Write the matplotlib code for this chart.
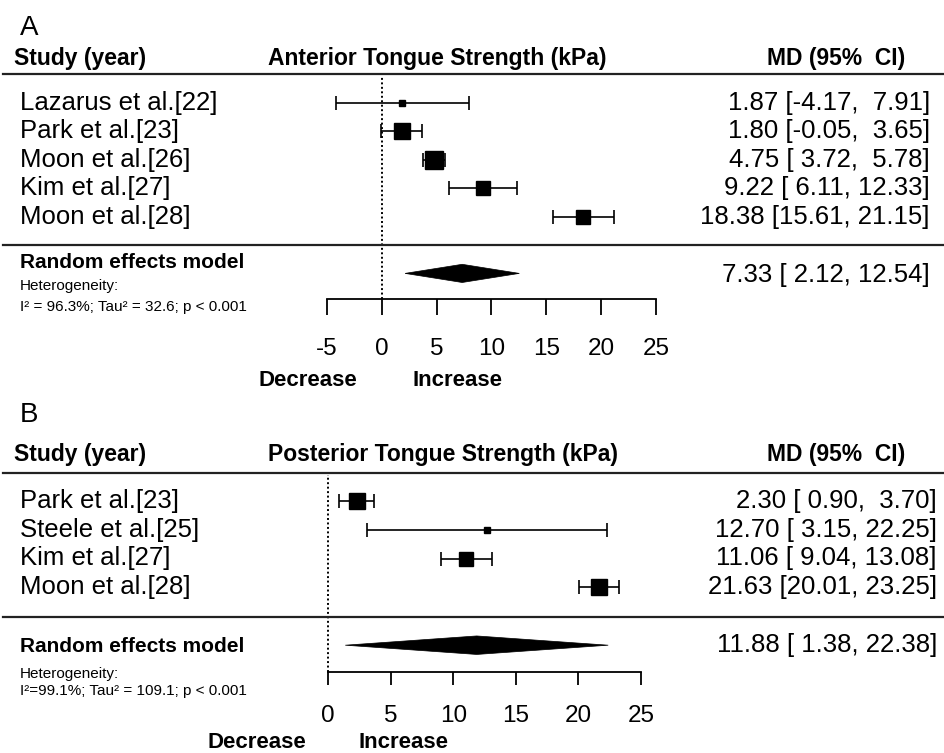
import matplotlib.pyplot as plt
from matplotlib.lines import Line2D
from matplotlib.patches import Polygon
import matplotlib.transforms as mtransforms
import numpy as np

plt.rcParams['font.family'] = ['Liberation Sans', 'DejaVu Sans']
plt.rcParams['axes.unicode_minus'] = False

# ============================= Data =================================
study_a = ['Lazarus et al.[22]', 'Park et al.[23]', 'Moon et al.[26]', 'Kim et al.[27]', 'Moon et al.[28]']
md_a = [1.87, 1.80, 4.75, 9.22, 18.38]
lo_a = [-4.17, -0.05, 3.72, 6.11, 15.61]
hi_a = [7.91, 3.65, 5.78, 12.33, 21.15]
wt_a = [3, 26, 30, 20, 21]          # relative box weights
pooled_a = [7.33, 2.12, 12.54]
het_a = 'I² = 96.3%; Tau² = 32.6; p < 0.001'
ticks_a = [-5, 0, 5, 10, 15, 20, 25]

study_b = ['Park et al.[23]', 'Steele et al.[25]', 'Kim et al.[27]', 'Moon et al.[28]']
md_b = [2.30, 12.70, 11.06, 21.63]
lo_b = [0.90, 3.15, 9.04, 20.01]
hi_b = [3.70, 22.25, 13.08, 23.25]
wt_b = [23, 3.3, 21, 23]
pooled_b = [11.88, 1.38, 22.38]
het_b = 'I²=99.1%; Tau² = 109.1; p < 0.001'
ticks_b = [0, 5, 10, 15, 20, 25]
# ====================================================================

W, H = 944, 753
fig = plt.figure(figsize=(W / 100, H / 100), dpi=100)


def fx(p):
    return p / W


def fy(p):
    return 1 - p / H


def ci_text(est, lo, hi):
    return '{:.2f} [{:5.2f}, {:5.2f}]'.format(est, lo, hi)


def hline(y):
    fig.add_artist(Line2D([fx(3), 1], [fy(y), fy(y)], color='#222222', lw=1.6))


def draw_panel(letter, title, studies, md, lo, hi, wt, pooled, het, ticks, L):
    n = len(studies)
    rows = np.arange(1, n + 1)
    md = np.array(md)
    lo = np.array(lo)
    hi = np.array(hi)

    # headers
    fig.text(fx(20), fy(L['letter_y']), letter, fontsize=20, va='baseline')
    fig.text(fx(14), fy(L['head_y']), 'Study (year)', fontsize=16.5, weight='bold', va='baseline')
    fig.text(fx(268), fy(L['head_y']), title, fontsize=16.5, weight='bold', va='baseline')
    fig.text(fx(905), fy(L['head_y']), 'MD (95%  CI)', fontsize=16.5, weight='bold', va='baseline', ha='right')
    hline(L['hline_y'])
    hline(L['sep_y'])

    # forest axes
    ax = fig.add_axes([fx(300), fy(L['ax_bot']), 400 / W, (L['ax_bot'] - L['ax_top']) / H])
    ax.set_xlim((300 - L['x0']) / L['ppu'], (700 - L['x0']) / L['ppu'])
    ax.set_ylim(1 + (L['ax_bot'] - L['row1']) / L['dy'], 1 + (L['ax_top'] - L['row1']) / L['dy'])
    ax.patch.set_visible(False)

    ax.axvline(0, color='black', lw=1.4, ls=(0, (1, 1.3)))
    ax.errorbar(md, rows, xerr=[md - lo, hi - md], fmt='none', ecolor='black',
                elinewidth=1.2, capsize=4.7, capthick=1.2)
    for i in range(n):
        ax.plot(md[i], rows[i], marker='s', ms=2.35 * np.sqrt(wt[i]), color='black', zorder=3)

    yd = n + 2
    est, plo, phi = pooled
    ax.add_patch(Polygon([[plo, yd], [est, yd - 0.32], [phi, yd], [est, yd + 0.32]],
                         closed=True, facecolor='black', edgecolor='black', lw=0.5))

    for s in ['top', 'left', 'right']:
        ax.spines[s].set_visible(False)
    ax.spines['bottom'].set_bounds(ticks[0], ticks[-1])
    ax.spines['bottom'].set_linewidth(1.3)
    ax.set_xticks(ticks)
    ax.set_yticks([])
    ax.tick_params(axis='x', direction='out', length=L['tick_len'], width=1.3,
                   pad=L['tick_pad'], labelsize=17.5)

    # study labels and CI column
    trans = mtransforms.blended_transform_factory(fig.transFigure, ax.transData)
    for i in range(n):
        ax.text(fx(20), rows[i], studies[i], transform=trans, va='center', fontsize=18.5)
        ax.text(fx(L['ci_right']), rows[i], ci_text(md[i], lo[i], hi[i]), transform=trans,
                va='center', ha='right', fontsize=18.5)

    # pooled row
    fig.text(fx(20), fy(L['rem_y']), 'Random effects model', fontsize=15, weight='bold', va='baseline')
    fig.text(fx(20), fy(L['het_y']), 'Heterogeneity:', fontsize=11, va='baseline')
    fig.text(fx(20), fy(L['i2_y']), het, fontsize=11, va='baseline')
    fig.text(fx(L['ci_right']), fy(L['pool_y']), ci_text(est, plo, phi), fontsize=18.5,
             ha='right', va='baseline')

    fig.text(fx(L['dec_x']), fy(L['lab_y']), 'Decrease', fontsize=16, weight='bold', ha='center', va='baseline')
    fig.text(fx(L['inc_x']), fy(L['lab_y']), 'Increase', fontsize=16, weight='bold', ha='center', va='baseline')
    return ax


layout_a = dict(letter_y=35, head_y=65, hline_y=74, sep_y=245, ax_top=76, ax_bot=299.3,
                row1=103, dy=28.4, x0=381.8, ppu=10.967, tick_len=11.5, tick_pad=16.5,
                ci_right=930, rem_y=268.3, het_y=290, i2_y=311, pool_y=281.7,
                dec_x=308, inc_x=458, lab_y=385.7)
layout_b = dict(letter_y=421.7, head_y=461, hline_y=472.7, sep_y=616.7, ax_top=475, ax_bot=672,
                row1=500.7, dy=28.9, x0=328, ppu=12.52, tick_len=9.4, tick_pad=14.4,
                ci_right=937, rem_y=651.7, het_y=677.7, i2_y=695, pool_y=651.7,
                dec_x=257, inc_x=403, lab_y=748)

draw_panel('A', 'Anterior Tongue Strength (kPa)', study_a, md_a, lo_a, hi_a, wt_a,
           pooled_a, het_a, ticks_a, layout_a)
draw_panel('B', 'Posterior Tongue Strength (kPa)', study_b, md_b, lo_b, hi_b, wt_b,
           pooled_b, het_b, ticks_b, layout_b)

fig.savefig('out.png', dpi=100)
